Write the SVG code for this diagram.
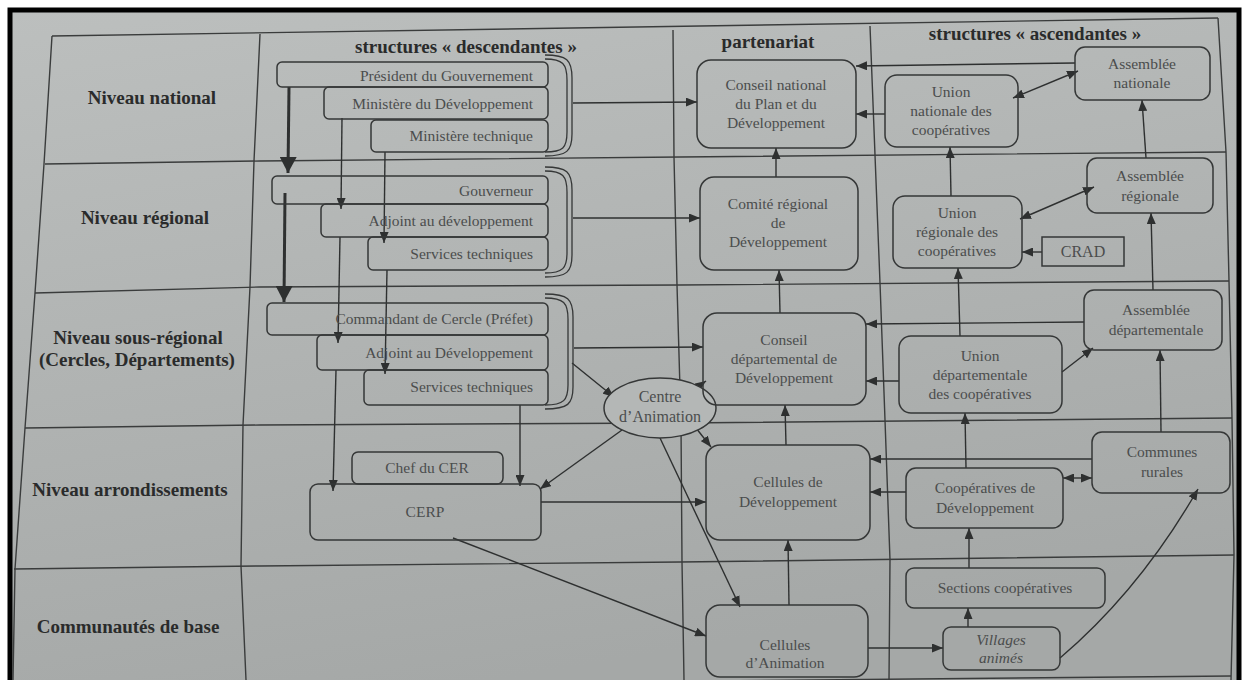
<svg xmlns="http://www.w3.org/2000/svg" width="1245" height="680" viewBox="0 0 1245 680">
<defs>
<linearGradient id="paper" x1="0" y1="0" x2="0.3" y2="1">
<stop offset="0" stop-color="#bcbfbe"/>
<stop offset="1" stop-color="#a5a8a7"/>
</linearGradient>
<marker id="ar" viewBox="0 0 10 10" refX="10" refY="5" markerWidth="11" markerHeight="9" markerUnits="userSpaceOnUse" orient="auto-start-reverse" preserveAspectRatio="none"><path d="M0,0 L10,5 L0,10 z" fill="#2e3030"/></marker>
<marker id="hv" viewBox="0 0 10 10" refX="10" refY="5" markerWidth="16" markerHeight="17" markerUnits="userSpaceOnUse" orient="auto" preserveAspectRatio="none"><path d="M0,0 L10,5 L0,10 z" fill="#2e3030"/></marker>
<style>
.grid{fill:none;stroke:#3a3c3c;stroke-width:1.4}
.box{fill:none;stroke:#353737;stroke-width:1.5}
.fbox{fill:#b4b7b6;stroke:#353737;stroke-width:1.5}
.br{fill:none;stroke:#353737;stroke-width:1.3}
.c{fill:none;stroke:#2e3030;stroke-width:1.4}
.ca{fill:none;stroke:#2e3030;stroke-width:1.4;marker-end:url(#ar)}
.cd{fill:none;stroke:#2e3030;stroke-width:1.4;marker-end:url(#ar);marker-start:url(#ar)}
.hv{fill:none;stroke:#2e3030;stroke-width:3;marker-end:url(#hv)}
.lab{font-family:"Liberation Serif",serif;font-weight:bold;font-size:19px;fill:#2a2b2b}
.hd{font-family:"Liberation Serif",serif;font-weight:bold;font-size:19px;fill:#2a2b2b;text-anchor:middle}
.t{font-family:"Liberation Serif",serif;font-size:15.5px;fill:#4b4d4d;text-anchor:middle}
.tr{font-family:"Liberation Serif",serif;font-size:15.5px;fill:#4b4d4d;text-anchor:end}
</style>
</defs>
<rect x="0" y="0" width="1245" height="680" fill="#ffffff"/>
<rect x="10" y="10" width="1229" height="690" fill="url(#paper)" stroke="#000" stroke-width="5"/>

<g id="grid">
<polyline class="grid" points="52,36 1218,18"/>
<polyline class="grid" points="45,164 260,161 680,157 1226,152"/>
<polyline class="grid" points="35,293 260,287 680,285 1229,281"/>
<polyline class="grid" points="25,428 260,425 680,423 1232,418"/>
<polyline class="grid" points="14,569 260,566 680,562 1234,555"/>
<polyline class="grid" points="600,682 1231,676"/>
<polyline class="grid" points="52,36 44,164 35,293 25,428 15,569 13,680"/>
<polyline class="grid" points="260,34 254,161 250,287 243,425 241,566 246,680"/>
<polyline class="grid" points="673,30 674,157 677,285 681,424 682,562 684,680"/>
<polyline class="grid" points="870,26 875,155 880,283 885,420 890,560 889,680"/>
<polyline class="grid" points="1218,18 1226,152 1229,281 1232,418 1234,555 1231,680"/>
</g>

<g id="labels">
<text class="lab" x="152" y="104" text-anchor="middle">Niveau national</text>
<text class="lab" x="145" y="224" text-anchor="middle">Niveau régional</text>
<text class="lab" x="138" y="344" text-anchor="middle">Niveau sous-régional</text>
<text class="lab" x="137" y="366" text-anchor="middle">(Cercles, Départements)</text>
<text class="lab" x="130" y="496" text-anchor="middle">Niveau arrondissements</text>
<text class="lab" x="128" y="633" text-anchor="middle">Communautés de base</text>
<text class="hd" x="466" y="53">structures « descendantes »</text>
<text class="hd" x="768" y="48">partenariat</text>
<text class="hd" x="1035" y="40">structures « ascendantes »</text>
</g>

<g id="connectors">
<line class="hv" x1="289" y1="87" x2="288" y2="173"/>
<line class="hv" x1="285" y1="193" x2="284" y2="302"/>
<line class="ca" x1="342" y1="118" x2="341" y2="209"/>
<line class="ca" x1="385" y1="152" x2="384" y2="243"/>
<line class="ca" x1="340" y1="237" x2="338" y2="343"/>
<line class="ca" x1="387" y1="270" x2="385" y2="374"/>
<line class="ca" x1="336" y1="370" x2="333" y2="491"/>
<line class="ca" x1="520" y1="405" x2="520" y2="486"/>
<line class="ca" x1="573" y1="103" x2="697" y2="102"/>
<line class="ca" x1="573" y1="218" x2="700" y2="218"/>
<line class="ca" x1="574" y1="348" x2="703" y2="347"/>
<line class="ca" x1="572" y1="363" x2="614" y2="397"/>
<line class="ca" x1="776" y1="177" x2="776" y2="148"/>
<line class="ca" x1="780" y1="313" x2="779" y2="270"/>
<line class="ca" x1="786" y1="445" x2="785" y2="405"/>
<line class="ca" x1="789" y1="605" x2="788" y2="540"/>
<line class="ca" x1="1075" y1="63" x2="856" y2="66"/>
<line class="ca" x1="885" y1="114" x2="856" y2="114"/>
<line class="cd" x1="1013" y1="98" x2="1078" y2="71"/>
<line class="ca" x1="951" y1="196" x2="950" y2="147"/>
<line class="ca" x1="1146" y1="158" x2="1142" y2="100"/>
<line class="cd" x1="1020" y1="219" x2="1094" y2="187"/>
<line class="ca" x1="1042" y1="252" x2="1022" y2="252"/>
<line class="ca" x1="960" y1="336" x2="958" y2="268"/>
<line class="ca" x1="1153" y1="290" x2="1151" y2="213"/>
<line class="ca" x1="1084" y1="322" x2="866" y2="324"/>
<line class="ca" x1="899" y1="381" x2="866" y2="381"/>
<line class="ca" x1="1062" y1="372" x2="1093" y2="348"/>
<line class="ca" x1="966" y1="468" x2="965" y2="413"/>
<line class="ca" x1="1161" y1="432" x2="1160" y2="350"/>
<line class="ca" x1="1092" y1="459" x2="870" y2="459"/>
<line class="ca" x1="906" y1="492" x2="870" y2="492"/>
<line class="cd" x1="1063" y1="478" x2="1092" y2="478"/>
<line class="ca" x1="969" y1="568" x2="969" y2="528"/>
<line class="ca" x1="968" y1="627" x2="968" y2="608"/>
<path class="ca" d="M1060,658 Q1140,590 1198,489"/>
<line class="ca" x1="868" y1="648" x2="943" y2="648"/>
<line class="ca" x1="692" y1="391" x2="706" y2="381"/>
<line class="ca" x1="696" y1="428" x2="711" y2="447"/>
<line class="ca" x1="622" y1="430" x2="540" y2="489"/>
<line class="ca" x1="660" y1="438" x2="740" y2="607"/>
<line class="ca" x1="541" y1="502" x2="706" y2="502"/>
<line class="ca" x1="453" y1="538" x2="706" y2="636"/>
</g>

<g id="brackets">
<path class="br" d="M545,55 C567,55 572,60 572,78 L572,134 C572,151 567,156 545,156"/>
<path class="br" d="M545,59 C563,59 567,64 567,80 L567,132 C567,148 563,152 545,152"/>
<path class="br" d="M545,167 C567,167 572,172 572,190 L572,255 C572,272 567,277 545,277"/>
<path class="br" d="M545,171 C563,171 567,176 567,192 L567,253 C567,268 563,273 545,273"/>
<path class="br" d="M545,294 C568,294 573,299 573,317 L573,387 C573,404 568,409 545,409"/>
<path class="br" d="M545,298 C564,298 568,303 568,319 L568,385 C568,400 564,405 545,405"/>
</g>

<g id="president"><rect class="box" x="277" y="62" width="271" height="25" rx="5"/><text class="tr" x="533" y="81">Président du Gouvernement</text></g>
<g id="ministere-dev"><rect class="box" x="324" y="87" width="224" height="32" rx="5"/><text class="tr" x="533" y="109">Ministère du Développement</text></g>
<g id="ministere-tech"><rect class="box" x="371" y="120" width="177" height="32" rx="5"/><text class="tr" x="533" y="141">Ministère technique</text></g>
<g id="gouverneur"><rect class="box" x="272" y="176" width="276" height="28" rx="5"/><text class="tr" x="533" y="196">Gouverneur</text></g>
<g id="adjoint-reg"><rect class="box" x="321" y="204" width="227" height="33" rx="5"/><text class="tr" x="533" y="226">Adjoint au développement</text></g>
<g id="services-reg"><rect class="box" x="368" y="237" width="180" height="33" rx="5"/><text class="tr" x="533" y="259">Services techniques</text></g>
<g id="commandant"><rect class="box" x="267" y="303" width="281" height="32" rx="5"/><text class="tr" x="533" y="324">Commandant de Cercle (Préfet)</text></g>
<g id="adjoint-dep"><rect class="box" x="317" y="335" width="231" height="35" rx="5"/><text class="tr" x="533" y="358">Adjoint au Développement</text></g>
<g id="services-dep"><rect class="box" x="364" y="370" width="184" height="35" rx="5"/><text class="tr" x="533" y="392">Services techniques</text></g>
<g id="chef-cer"><rect class="box" x="352" y="452" width="151" height="32" rx="6"/><text class="t" x="427" y="473">Chef du CER</text></g>
<g id="cerp"><rect class="box" x="310" y="484" width="231" height="56" rx="8"/><text class="t" x="425" y="517">CERP</text></g>

<g id="centre-animation"><ellipse class="fbox" cx="660" cy="408" rx="56" ry="30"/><text class="t" x="660" y="402" style="font-size:16px">Centre</text><text class="t" x="660" y="422" style="font-size:16px">d’Animation</text></g>

<g id="conseil-national"><rect class="box" x="697" y="60" width="159" height="88" rx="14"/><text class="t" x="776" y="90">Conseil national</text><text class="t" x="776" y="109">du Plan et du</text><text class="t" x="776" y="128">Développement</text></g>
<g id="comite-regional"><rect class="box" x="700" y="177" width="158" height="93" rx="14"/><text class="t" x="778" y="209">Comité régional</text><text class="t" x="778" y="228">de</text><text class="t" x="778" y="247">Développement</text></g>
<g id="conseil-dep"><rect class="box" x="703" y="313" width="163" height="92" rx="14"/><text class="t" x="784" y="345">Conseil</text><text class="t" x="784" y="364">départemental de</text><text class="t" x="784" y="383">Développement</text></g>
<g id="cellules-dev"><rect class="box" x="706" y="445" width="164" height="95" rx="14"/><text class="t" x="788" y="487">Cellules de</text><text class="t" x="788" y="507">Développement</text></g>
<g id="cellules-anim"><rect class="box" x="706" y="605" width="162" height="72" rx="14"/><text class="t" x="785" y="650">Cellules</text><text class="t" x="785" y="668">d’Animation</text></g>

<g id="union-nat"><rect class="box" x="885" y="75" width="133" height="72" rx="12"/><text class="t" x="951" y="97">Union</text><text class="t" x="951" y="116">nationale des</text><text class="t" x="951" y="135">coopératives</text></g>
<g id="assemblee-nat"><rect class="box" x="1075" y="47" width="135" height="53" rx="10"/><text class="t" x="1142" y="69">Assemblée</text><text class="t" x="1142" y="88">nationale</text></g>
<g id="union-reg"><rect class="box" x="893" y="196" width="129" height="72" rx="12"/><text class="t" x="957" y="218">Union</text><text class="t" x="957" y="237">régionale des</text><text class="t" x="957" y="256">coopératives</text></g>
<g id="crad"><rect class="box" x="1042" y="237" width="82" height="29"/><text class="t" x="1083" y="257" style="font-size:16px">CRAD</text></g>
<g id="assemblee-reg"><rect class="box" x="1087" y="158" width="126" height="55" rx="10"/><text class="t" x="1150" y="181">Assemblée</text><text class="t" x="1150" y="201">régionale</text></g>
<g id="union-dep"><rect class="box" x="899" y="336" width="163" height="77" rx="12"/><text class="t" x="980" y="361">Union</text><text class="t" x="980" y="380">départementale</text><text class="t" x="980" y="399">des coopératives</text></g>
<g id="assemblee-dep"><rect class="box" x="1084" y="290" width="138" height="60" rx="10"/><text class="t" x="1156" y="315">Assemblée</text><text class="t" x="1156" y="335">départementale</text></g>
<g id="coop-dev"><rect class="box" x="906" y="468" width="157" height="60" rx="10"/><text class="t" x="985" y="493">Coopératives de</text><text class="t" x="985" y="513">Développement</text></g>
<g id="communes"><rect class="box" x="1092" y="432" width="138" height="61" rx="10"/><text class="t" x="1162" y="457">Communes</text><text class="t" x="1162" y="477">rurales</text></g>
<g id="sections"><rect class="box" x="906" y="568" width="199" height="40" rx="8"/><text class="t" x="1005" y="593">Sections coopératives</text></g>
<g id="villages"><rect class="box" x="943" y="627" width="117" height="43" rx="8"/><text class="t" x="1001" y="645" style="font-style:italic">Villages</text><text class="t" x="1001" y="663" style="font-style:italic">animés</text></g>
</svg>
